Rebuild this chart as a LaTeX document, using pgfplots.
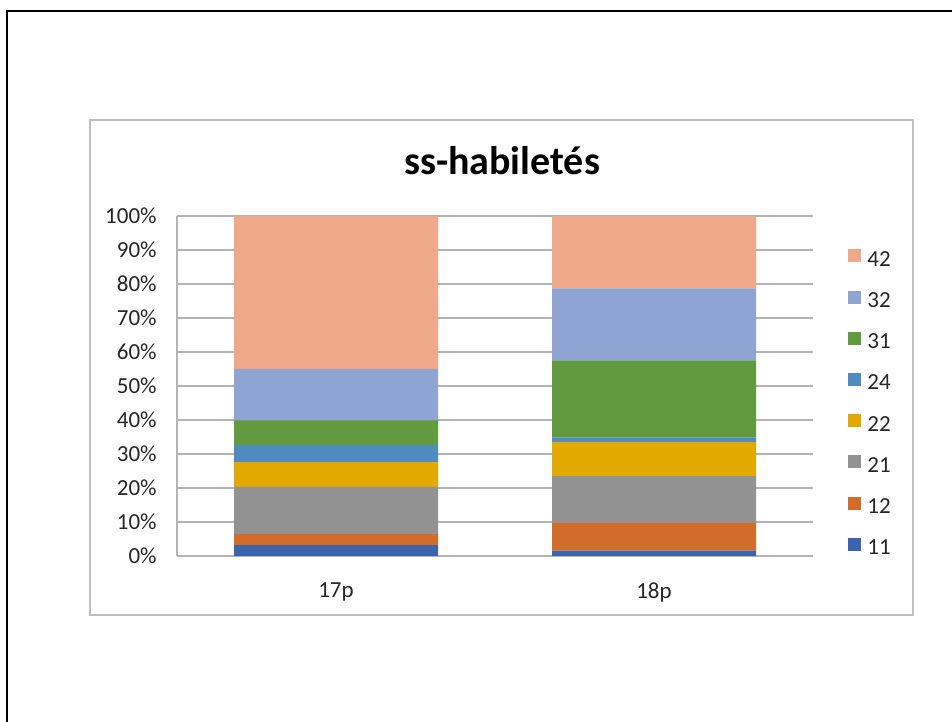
\documentclass[border=0pt]{standalone}
\usepackage{pgfplots}
\pgfplotsset{compat=1.18}
\usepackage{fontspec}
\setmainfont{Carlito}
\definecolor{c11}{RGB}{60,100,174}
\definecolor{c12}{RGB}{210,108,42}
\definecolor{c21}{RGB}{146,146,146}
\definecolor{c22}{RGB}{226,170,0}
\definecolor{c24}{RGB}{80,138,190}
\definecolor{c31}{RGB}{98,154,64}
\definecolor{c32}{RGB}{144,164,212}
\definecolor{c42}{RGB}{240,168,138}
\definecolor{gridc}{RGB}{180,180,180}
\definecolor{framec}{RGB}{191,191,191}
\begin{document}
\begin{tikzpicture}
\useasboundingbox (0,0) rectangle (476pt,361pt);
\draw[line width=1.2pt] (3.5pt,0) -- (3.5pt,355.5pt) -- (476pt,355.5pt);
\draw[framec, line width=0.6pt] (45pt,53.5pt) rectangle (456.5pt,301pt);
\node[font=\fontsize{20}{24}\selectfont\bfseries, anchor=base] at (251pt,273.5pt) {ss-habiletés};
\begin{axis}[
  at={(88.5pt,83pt)}, anchor=south west,
  scale only axis, width=318pt, height=170pt,
  ybar stacked, bar width=0.6415,
  xmin=-0.5, xmax=1.5, ymin=0, ymax=100,
  enlargelimits=false,
  xtick={0,1}, xticklabels={17p,18p},
  ytick={0,10,...,100},
  yticklabels={0\%,10\%,20\%,30\%,40\%,50\%,60\%,70\%,80\%,90\%,100\%},
  major tick length=0pt,
  ymajorgrids, grid style={gridc, line width=0.6pt},
  axis x line*=bottom, axis y line*=left,
  axis line style={-, gridc, line width=0.6pt},
  ticklabel style={font=\fontsize{11.5}{13}\selectfont, text=black!85},
  yticklabel style={anchor=east, inner sep=0pt, xshift=-10pt},
  xticklabel style={anchor=north, inner sep=0pt, yshift=-13pt},
  legend style={at={(1.055,0.903)}, anchor=north west, draw=none, fill=none,
    inner sep=0pt, row sep=9.6pt,
    nodes={inner sep=0pt, text height=7.5pt, text depth=2.5pt},
    font=\fontsize{11.5}{13}\selectfont, text=black!85},
  legend cell align=left,
  legend image code/.code={\fill[#1] (0pt,-0.5pt) rectangle (6.5pt,6pt);},
  reverse legend,
]
\addplot[fill=c11, draw=none] coordinates {(0,3.2) (1,1.6)};
\addlegendentry{\hspace{3pt}11}
\addplot[fill=c12, draw=none] coordinates {(0,3.2) (1,8.2)};
\addlegendentry{\hspace{3pt}12}
\addplot[fill=c21, draw=none] coordinates {(0,13.9) (1,13.7)};
\addlegendentry{\hspace{3pt}21}
\addplot[fill=c22, draw=none] coordinates {(0,7.3) (1,10.1)};
\addlegendentry{\hspace{3pt}22}
\addplot[fill=c24, draw=none] coordinates {(0,5.1) (1,1.3)};
\addlegendentry{\hspace{3pt}24}
\addplot[fill=c31, draw=none] coordinates {(0,7.2) (1,22.6)};
\addlegendentry{\hspace{3pt}31}
\addplot[fill=c32, draw=none] coordinates {(0,15.1) (1,21.2)};
\addlegendentry{\hspace{3pt}32}
\addplot[fill=c42, draw=none] coordinates {(0,45.0) (1,21.3)};
\addlegendentry{\hspace{3pt}42}
\end{axis}
\end{tikzpicture}
\end{document}
